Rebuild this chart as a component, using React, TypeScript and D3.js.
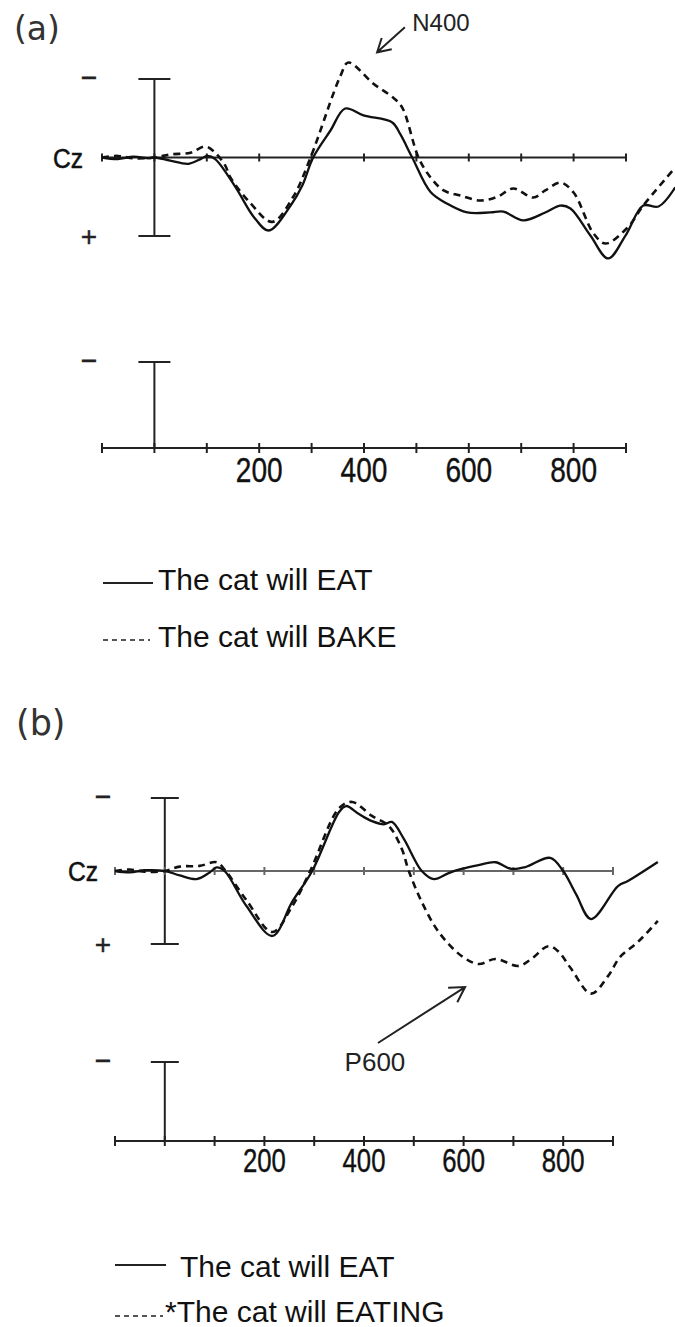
import * as d3 from "d3";

// time (ms) and amplitude (µV, positive drawn downwards)
const eatA: [number, number][] = [
  [-100, 0], [-70, 0.1], [-40, -0.05], [-10, 0.05], [0, 0], [30, 0.2], [65, 0.4], [88, 0.1],
  [101, -0.1], [116, 0.1], [155, 1.9], [190, 3.8], [218, 4.65], [260, 3.06], [282, 1.8],
  [303, 0], [336, -1.72], [364, -3.12], [399, -2.68], [454, -2.23], [469, -1.5], [492, 0],
  [527, 2.2], [559, 2.95], [597, 3.5], [641, 3.5], [666, 3.45], [704, 4.0], [746, 3.5],
  [775, 3.06], [794, 3.25], [832, 4.97], [866, 6.43], [899, 4.97], [933, 3.06], [962, 3.12],
  [994, 1.9],
];
const bakeA: [number, number][] = [
  [-100, 0], [-70, -0.1], [-40, 0.05], [0, 0], [31, -0.2], [69, -0.3], [97, -0.7], [113, -0.4],
  [135, 0.5], [145, 1.27], [183, 2.9], [225, 4.1], [265, 2.5], [298, 0], [355, -5.2],
  [370, -6.05], [418, -4.7], [456, -3.8], [473, -3.18], [504, 0], [527, 1.27], [552, 2.1],
  [584, 2.42], [622, 2.74], [655, 2.5], [685, 1.97], [723, 2.55], [746, 2.1], [775, 1.6],
  [800, 2.23], [838, 4.84], [861, 5.48], [903, 4.46], [933, 3.06], [994, 0.64],
];
const eatB: [number, number][] = [
  [-100, 0], [-70, 0.1], [-40, -0.05], [0, 0], [30, 0.3], [64, 0.55], [90, 0.1], [104, -0.25],
  [120, 0], [164, 2.4], [216, 4.45], [256, 2.1], [296, 0], [350, -4.04], [364, -4.45],
  [390, -3.9], [416, -3.42], [440, -3.2], [456, -3.36], [480, -2.2], [516, 0], [540, 0.55],
  [570, 0.14], [596, -0.14], [630, -0.4], [664, -0.6], [696, -0.14], [724, -0.27], [774, -0.9],
  [800, 0], [826, 1.6], [856, 3.29], [910, 1.03], [930, 0.68], [990, -0.62],
];
const eatingB: [number, number][] = [
  [-100, 0], [-70, -0.1], [-40, 0.05], [0, 0], [30, -0.3], [70, -0.35], [104, -0.6], [120, -0.1],
  [164, 2.0], [216, 4.18], [256, 2.4], [292, 0], [350, -4.3], [376, -4.73], [416, -3.77],
  [450, -3.08], [476, -1.5], [490, 0], [516, 2.12], [550, 4.18], [596, 5.82], [630, 6.37],
  [664, 6.03], [710, 6.5], [736, 6.03], [770, 5.15], [790, 5.5], [816, 6.7], [856, 8.4],
  [890, 7.2], [914, 5.9], [950, 4.86], [990, 3.42],
];

const tickMs = d3.range(-100, 1000, 100);
const tickLabels = [200, 400, 600, 800];
const legendA = ["The cat will EAT", "The cat will BAKE"];
const legendB = ["The cat will EAT", "*The cat will EATING"];

type Annot = { label: string; tip: [number, number]; tail: [number, number]; text: [number, number]; head: number };
const annotA: Annot = { label: "N400", tip: [425, -6.7], tail: [478, -8.3], text: [492, -8.06], head: 15 };
const annotB: Annot = { label: "P600", tip: [603, 7.95], tail: [428, 11.78], text: [422, 13.7], head: 17 };

const sans = "'Liberation Sans', Arial, sans-serif";

type Layout = {
  name: string;
  xRange: [number, number];
  yRange: [number, number];
  axisY: number;
  halfTop: number;
  cap: number;
  tickFont: number;
  tickBase: number;
  tag: [number, number, number];
  signX: number;
  czX: number;
  baseColor: string;
  legendLine: [number, number];
  legendText: number[];
  legendY: number[];
  legendBase: number[];
};

const layoutA: Layout = {
  name: "(a)", xRange: [102, 626], yRange: [79, 236], axisY: 448, halfTop: 362, cap: 16,
  tickFont: 36, tickBase: 482, tag: [14, 40, 33], signX: 89, czX: 53, baseColor: "#222",
  legendLine: [103, 153], legendText: [158, 158], legendY: [583, 640], legendBase: [590, 647],
};
const layoutB: Layout = {
  name: "(b)", xRange: [115, 613], yRange: [798, 944], axisY: 1141, halfTop: 1062, cap: 14,
  tickFont: 33, tickBase: 1172, tag: [16, 735, 35], signX: 103, czX: 68, baseColor: "#666",
  legendLine: [115, 166], legendText: [180, 165], legendY: [1265, 1316], legendBase: [1277, 1322],
};

function arrowPath(x1: number, y1: number, x2: number, y2: number, h: number) {
  const a = Math.atan2(y2 - y1, x2 - x1);
  const w = Math.PI / 6;
  const p1 = [x2 - h * Math.cos(a - w), y2 - h * Math.sin(a - w)];
  const p2 = [x2 - h * Math.cos(a + w), y2 - h * Math.sin(a + w)];
  return `M${x1},${y1}L${x2},${y2}M${p1[0]},${p1[1]}L${x2},${y2}L${p2[0]},${p2[1]}`;
}

function Panel({ L, solid, dashed, legend, annot }: { L: Layout; solid: [number, number][]; dashed: [number, number][]; legend: string[]; annot: Annot }) {
  const x = d3.scaleLinear().domain([-100, 900]).range(L.xRange);
  const y = d3.scaleLinear().domain([-5, 5]).range(L.yRange);
  const line = d3
    .line<[number, number]>()
    .x((d) => x(d[0]))
    .y((d) => y(d[1]))
    .curve(d3.curveCatmullRom.alpha(0.5));
  const y0 = y(0);
  const xs = x(0);
  const signFs = 28;
  return (
    <g>
      <text x={L.tag[0]} y={L.tag[1]} fontSize={L.tag[2]} fontFamily="'DejaVu Sans', sans-serif" fill="#333">
        {L.name}
      </text>

      {/* polarity signs and electrode */}
      <text x={L.signX} y={y(-5) + 0.3 * signFs} fontSize={signFs} fontFamily={sans} textAnchor="middle" fill="#222" stroke="#222" strokeWidth={0.6}>−</text>
      <text x={L.signX} y={y(5) + 0.3 * signFs + 2} fontSize={signFs} fontFamily={sans} textAnchor="middle" fill="#222" stroke="#222" strokeWidth={0.4}>+</text>
      <text
        transform={`translate(${L.czX},${y0 + 10}) scale(0.88,1)`}
        fontSize={28}
        fontFamily={sans}
        fill="#111"
        stroke="#111"
        strokeWidth={0.5}
      >
        Cz
      </text>

      {/* calibration bar */}
      <g stroke="#222" strokeWidth={2}>
        <line x1={xs} x2={xs} y1={y(-5)} y2={y(5)} />
        <line x1={xs - L.cap} x2={xs + L.cap} y1={y(-5)} y2={y(-5)} />
        <line x1={xs - L.cap} x2={xs + L.cap} y1={y(5)} y2={y(5)} />
      </g>

      {/* zero line with ticks */}
      <g stroke={L.baseColor} strokeWidth={2}>
        <line x1={x(-100)} x2={x(900)} y1={y0} y2={y0} />
        {tickMs.map((t) => (
          <line key={t} x1={x(t)} x2={x(t)} y1={y0 - 4} y2={y0 + 4} />
        ))}
      </g>

      <path d={line(solid) ?? ""} fill="none" stroke="#111" strokeWidth={2.3} />
      <path d={line(dashed) ?? ""} fill="none" stroke="#111" strokeWidth={2.6} strokeDasharray="7 5" />

      {/* annotation */}
      <path
        d={arrowPath(x(annot.tail[0]), y(annot.tail[1]), x(annot.tip[0]), y(annot.tip[1]), annot.head)}
        fill="none"
        stroke="#222"
        strokeWidth={2}
      />
      <text
        x={x(annot.text[0])}
        y={y(annot.text[1])}
        fontSize={annot.label === "N400" ? 24 : 26}
        fontFamily={sans}
        textAnchor={annot.label === "N400" ? "start" : "middle"}
        fill="#222"
      >
        {annot.label}
      </text>

      {/* time axis */}
      <text x={L.signX} y={L.halfTop + 0.3 * signFs} fontSize={signFs} fontFamily={sans} textAnchor="middle" fill="#222" stroke="#222" strokeWidth={0.6}>−</text>
      <g stroke="#222" strokeWidth={2}>
        <line x1={xs} x2={xs} y1={L.halfTop} y2={L.axisY} />
        <line x1={xs - L.cap} x2={xs + L.cap} y1={L.halfTop} y2={L.halfTop} />
        <line x1={x(-100)} x2={x(900)} y1={L.axisY} y2={L.axisY} />
        {tickMs.map((t) => (
          <line key={t} x1={x(t)} x2={x(t)} y1={L.axisY - 5} y2={L.axisY + 5} />
        ))}
      </g>
      {tickLabels.map((t) => (
        <text
          key={t}
          transform={`translate(${x(t)},${L.tickBase}) scale(0.78,1)`}
          fontSize={L.tickFont}
          fontFamily={sans}
          textAnchor="middle"
          fill="#111"
          stroke="#111"
          strokeWidth={0.4}
        >
          {t}
        </text>
      ))}

      {/* legend */}
      <line x1={L.legendLine[0]} x2={L.legendLine[1]} y1={L.legendY[0]} y2={L.legendY[0]} stroke="#222" strokeWidth={2} />
      <line x1={L.legendLine[0]} x2={L.legendLine[1] - 3} y1={L.legendY[1]} y2={L.legendY[1]} stroke="#555" strokeWidth={2} strokeDasharray="5 4" />
      {legend.map((s, i) => (
        <text key={s} x={L.legendText[i]} y={L.legendBase[i]} fontSize={30} fontFamily={sans} fill="#111">
          {s}
        </text>
      ))}
    </g>
  );
}

export default function App() {
  return (
    <svg width={675} height={1327} style={{ position: "absolute", left: 0, top: 0, background: "#fff" }}>
      <rect width={675} height={1327} fill="#fff" />
      <Panel L={layoutA} solid={eatA} dashed={bakeA} legend={legendA} annot={annotA} />
      <Panel L={layoutB} solid={eatB} dashed={eatingB} legend={legendB} annot={annotB} />
    </svg>
  );
}
